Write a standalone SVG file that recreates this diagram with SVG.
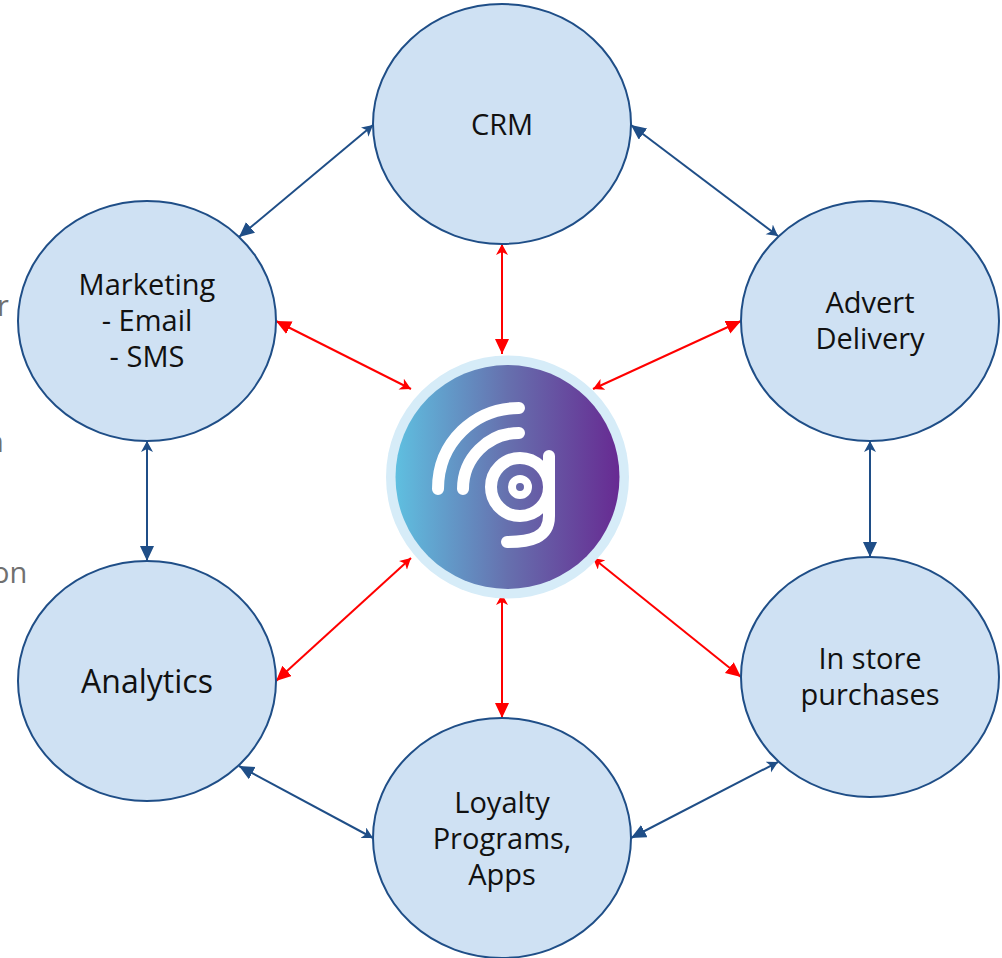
<svg xmlns="http://www.w3.org/2000/svg" width="1002" height="958" viewBox="0 0 1002 958">
<style>
.n{fill:#cfe1f3;stroke:#1f4e87;stroke-width:2}
.t{font-family:"Open Sans","Noto Sans",sans-serif;font-size:29px;fill:#111;text-anchor:middle}
.g{font-family:"Open Sans","Noto Sans",sans-serif;font-size:29px;fill:#707070}
.b{fill:none;stroke:#1f4e87;stroke-width:2}
.r{fill:none;stroke:#f00;stroke-width:2}
.w{fill:none;stroke:#fff;stroke-linecap:round}
</style>
<defs>
<linearGradient id="lg" x1="0" x2="1" y1="0" y2="0"><stop offset="0" stop-color="#5fbfe0"/><stop offset="0.5" stop-color="#6670ae"/><stop offset="1" stop-color="#672a92"/></linearGradient>
<marker id="bb" markerUnits="userSpaceOnUse" markerWidth="18" markerHeight="16" refX="15" refY="7" orient="auto-start-reverse"><path d="M0 0L15 7L0 14z" fill="#1f4e87"/></marker>
<marker id="bs" markerUnits="userSpaceOnUse" markerWidth="14" markerHeight="14" refX="11" refY="6" orient="auto-start-reverse"><path d="M0 0L11 6L0 12L3 6z" fill="#1f4e87"/></marker>
<marker id="rb" markerUnits="userSpaceOnUse" markerWidth="18" markerHeight="16" refX="15" refY="7" orient="auto-start-reverse"><path d="M0 0L15 7L0 14z" fill="#f00"/></marker>
<marker id="rs" markerUnits="userSpaceOnUse" markerWidth="14" markerHeight="14" refX="11" refY="6" orient="auto-start-reverse"><path d="M0 0L11 6L0 12L3 6z" fill="#f00"/></marker>
</defs>
<text class="g" x="-3" y="316">r</text>
<text class="g" x="-14" y="452">n</text>
<text class="g" x="-8" y="583">on</text>
<g id="connectors">
<path class="b" d="M373 125L239 237" marker-start="url(#bs)" marker-end="url(#bb)"/>
<path class="b" d="M631 125L778 236" marker-start="url(#bb)" marker-end="url(#bs)"/>
<path class="b" d="M147 441L147 561" marker-start="url(#bs)" marker-end="url(#bb)"/>
<path class="b" d="M870 441L870 557" marker-start="url(#bs)" marker-end="url(#bb)"/>
<path class="b" d="M239 766L373 838" marker-start="url(#bb)" marker-end="url(#bs)"/>
<path class="b" d="M778 762L631 838" marker-start="url(#bs)" marker-end="url(#bb)"/>
<path class="r" d="M502 244L502 354" marker-start="url(#rs)" marker-end="url(#rb)"/>
<path class="r" d="M502 594L502 718" marker-start="url(#rs)" marker-end="url(#rb)"/>
<path class="r" d="M276 321L411 389" marker-start="url(#rb)" marker-end="url(#rs)"/>
<path class="r" d="M741 321L593 389" marker-start="url(#rb)" marker-end="url(#rs)"/>
<path class="r" d="M276 681L411 558" marker-start="url(#rb)" marker-end="url(#rs)"/>
<path class="r" d="M741 677L593 558" marker-start="url(#rb)" marker-end="url(#rs)"/>
</g>
<g id="crm"><ellipse class="n" cx="502" cy="124" rx="129" ry="120"/><text class="t" x="502" y="135">CRM</text></g>
<g id="marketing"><ellipse class="n" cx="147" cy="321" rx="129" ry="120"/><text class="t" x="147" y="295">Marketing</text><text class="t" x="147" y="331">- Email</text><text class="t" x="147" y="367">- SMS</text></g>
<g id="advert"><ellipse class="n" cx="870" cy="321" rx="129" ry="120"/><text class="t" x="870" y="313">Advert</text><text class="t" x="870" y="349">Delivery</text></g>
<g id="analytics"><ellipse class="n" cx="147" cy="681" rx="129" ry="120"/><text class="t" x="147" y="693" style="font-size:32px">Analytics</text></g>
<g id="instore"><ellipse class="n" cx="870" cy="677" rx="129" ry="120"/><text class="t" x="870" y="669">In store</text><text class="t" x="870" y="705">purchases</text></g>
<g id="loyalty"><ellipse class="n" cx="502" cy="838" rx="129" ry="120"/><text class="t" x="502" y="813">Loyalty</text><text class="t" x="502" y="849">Programs,</text><text class="t" x="502" y="885">Apps</text></g>
<g id="logo">
<circle cx="507.5" cy="477" r="121.5" fill="#d6ecf8"/>
<circle cx="507.5" cy="477" r="112" fill="url(#lg)"/>
<path class="w" stroke-width="12" d="M438 489C438 442 475 408 519 408"/>
<path class="w" stroke-width="12" d="M463 489C463 458 488 433 519 433"/>
<circle cx="520" cy="487" r="29" fill="none" stroke="#fff" stroke-width="12"/>
<circle cx="520" cy="487" r="8" fill="none" stroke="#fff" stroke-width="8"/>
<path class="w" stroke-width="12" stroke-linecap="butt" d="M549 456V516C549 538 530 542 507 542" style="stroke-linecap:round"/>
</g>
</svg>
